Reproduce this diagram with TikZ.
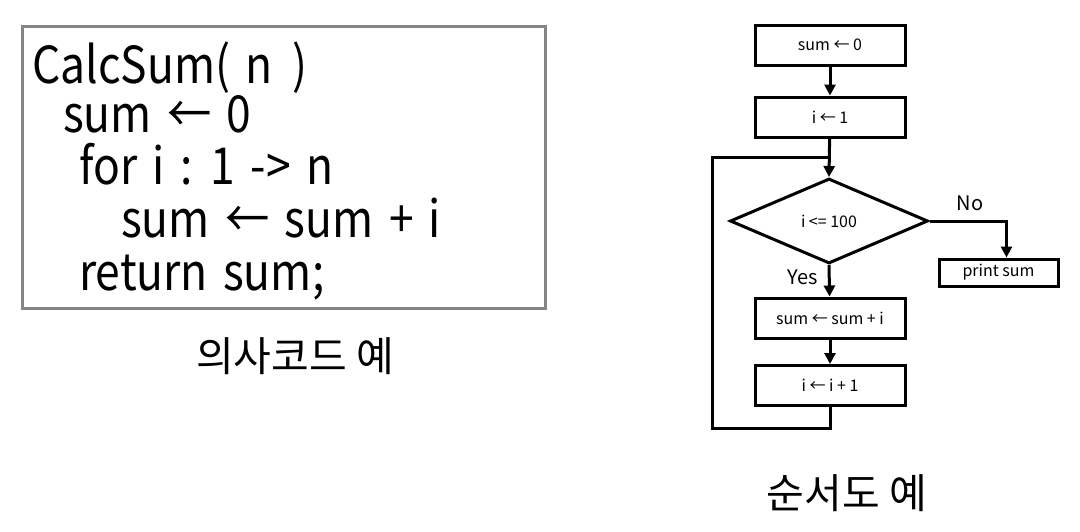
\documentclass[tikz,border=0pt]{standalone}
\usepackage{fontspec}
\setmainfont{Noto Sans CJK KR}
\newfontfamily\codefont[FakeStretch=0.87]{Noto Sans CJK KR}
\newcommand{\codesetup}{\codefont\fontsize{51}{53}\selectfont\spaceskip=0.3em\relax}
\usetikzlibrary{arrows.meta,shapes.geometric}
\tikzset{
  codeline/.style={anchor=base west,inner sep=0pt,text height=36pt,text depth=8pt,font=\codesetup},
  caption/.style={inner sep=0pt,font=\fontsize{41}{44}\selectfont},
  fbox/.style={draw,line width=3pt,minimum width=150pt,minimum height=40pt,inner sep=0pt,font=\fontsize{16}{18}\selectfont},
  fdia/.style={draw,diamond,aspect=2.3,line width=3pt,minimum width=198pt,minimum height=85pt,inner sep=0pt,font=\fontsize{16}{18}\selectfont},
  flow/.style={line width=3pt},
  arr/.style={line width=3pt,-{Triangle[width=11pt,length=11pt]}},
  lab/.style={inner sep=0pt,font=\fontsize{20}{22}\selectfont}
}
\begin{document}
\begin{tikzpicture}[x=1pt,y=-1pt]
\useasboundingbox (0,0) rectangle (1080,531);
% pseudo-code box
\node[draw=black!48,line width=3pt,minimum width=523pt,minimum height=282pt,inner sep=0pt] (code) at (283.5,167) {};
\node[codeline] (c1) at (32,83) {CalcSum( n\hspace{0.4em})};
\node[codeline] (c2) at (63,132) {sum ← 0};
\node[codeline] (c3) at (79,184) {for i : 1 -> n};
\node[codeline] (c4) at (121,237) {sum ← sum + i};
\node[codeline] (c5) at (79,290) {return sum;};
\node[caption] (cap1) at (295,356) {의사코드 예};
% flowchart
\node[fbox] (b1) at (830,45) {sum ← 0};
\node[fbox] (b2) at (830,117) {i ← 1};
\node[fdia] (d) at (829,221) {i <= 100};
\node[fbox] (b3) at (830,318) {sum ← sum + i};
\node[fbox] (b4) at (830,385.5) {i ← i + 1};
\node[draw,line width=3pt,minimum width=119pt,minimum height=27pt,inner sep=0pt,font=\fontsize{16}{18}\selectfont] (pr) at (998.5,272.5) {\raisebox{-7pt}{print sum}};
\node[lab] (no) at (970,203) {No};
\node[lab] (yes) at (803,277) {Yes};
\node[caption] (cap2) at (847,493) {순서도 예};
\coordinate (lp) at (712,157);
\draw[arr] (b1) -- (b2);
\draw[arr] (b2) -- (d.north);
\draw[arr] (d.south) -- (b3);
\draw[arr] (b3) -- (b4);
\draw[arr] (d.east) -| ([xshift=8pt]pr.north);
\draw[flow] (b4.south) -- ++(0,21) -| (lp) -- (lp -| b2.south);
\end{tikzpicture}
\end{document}
